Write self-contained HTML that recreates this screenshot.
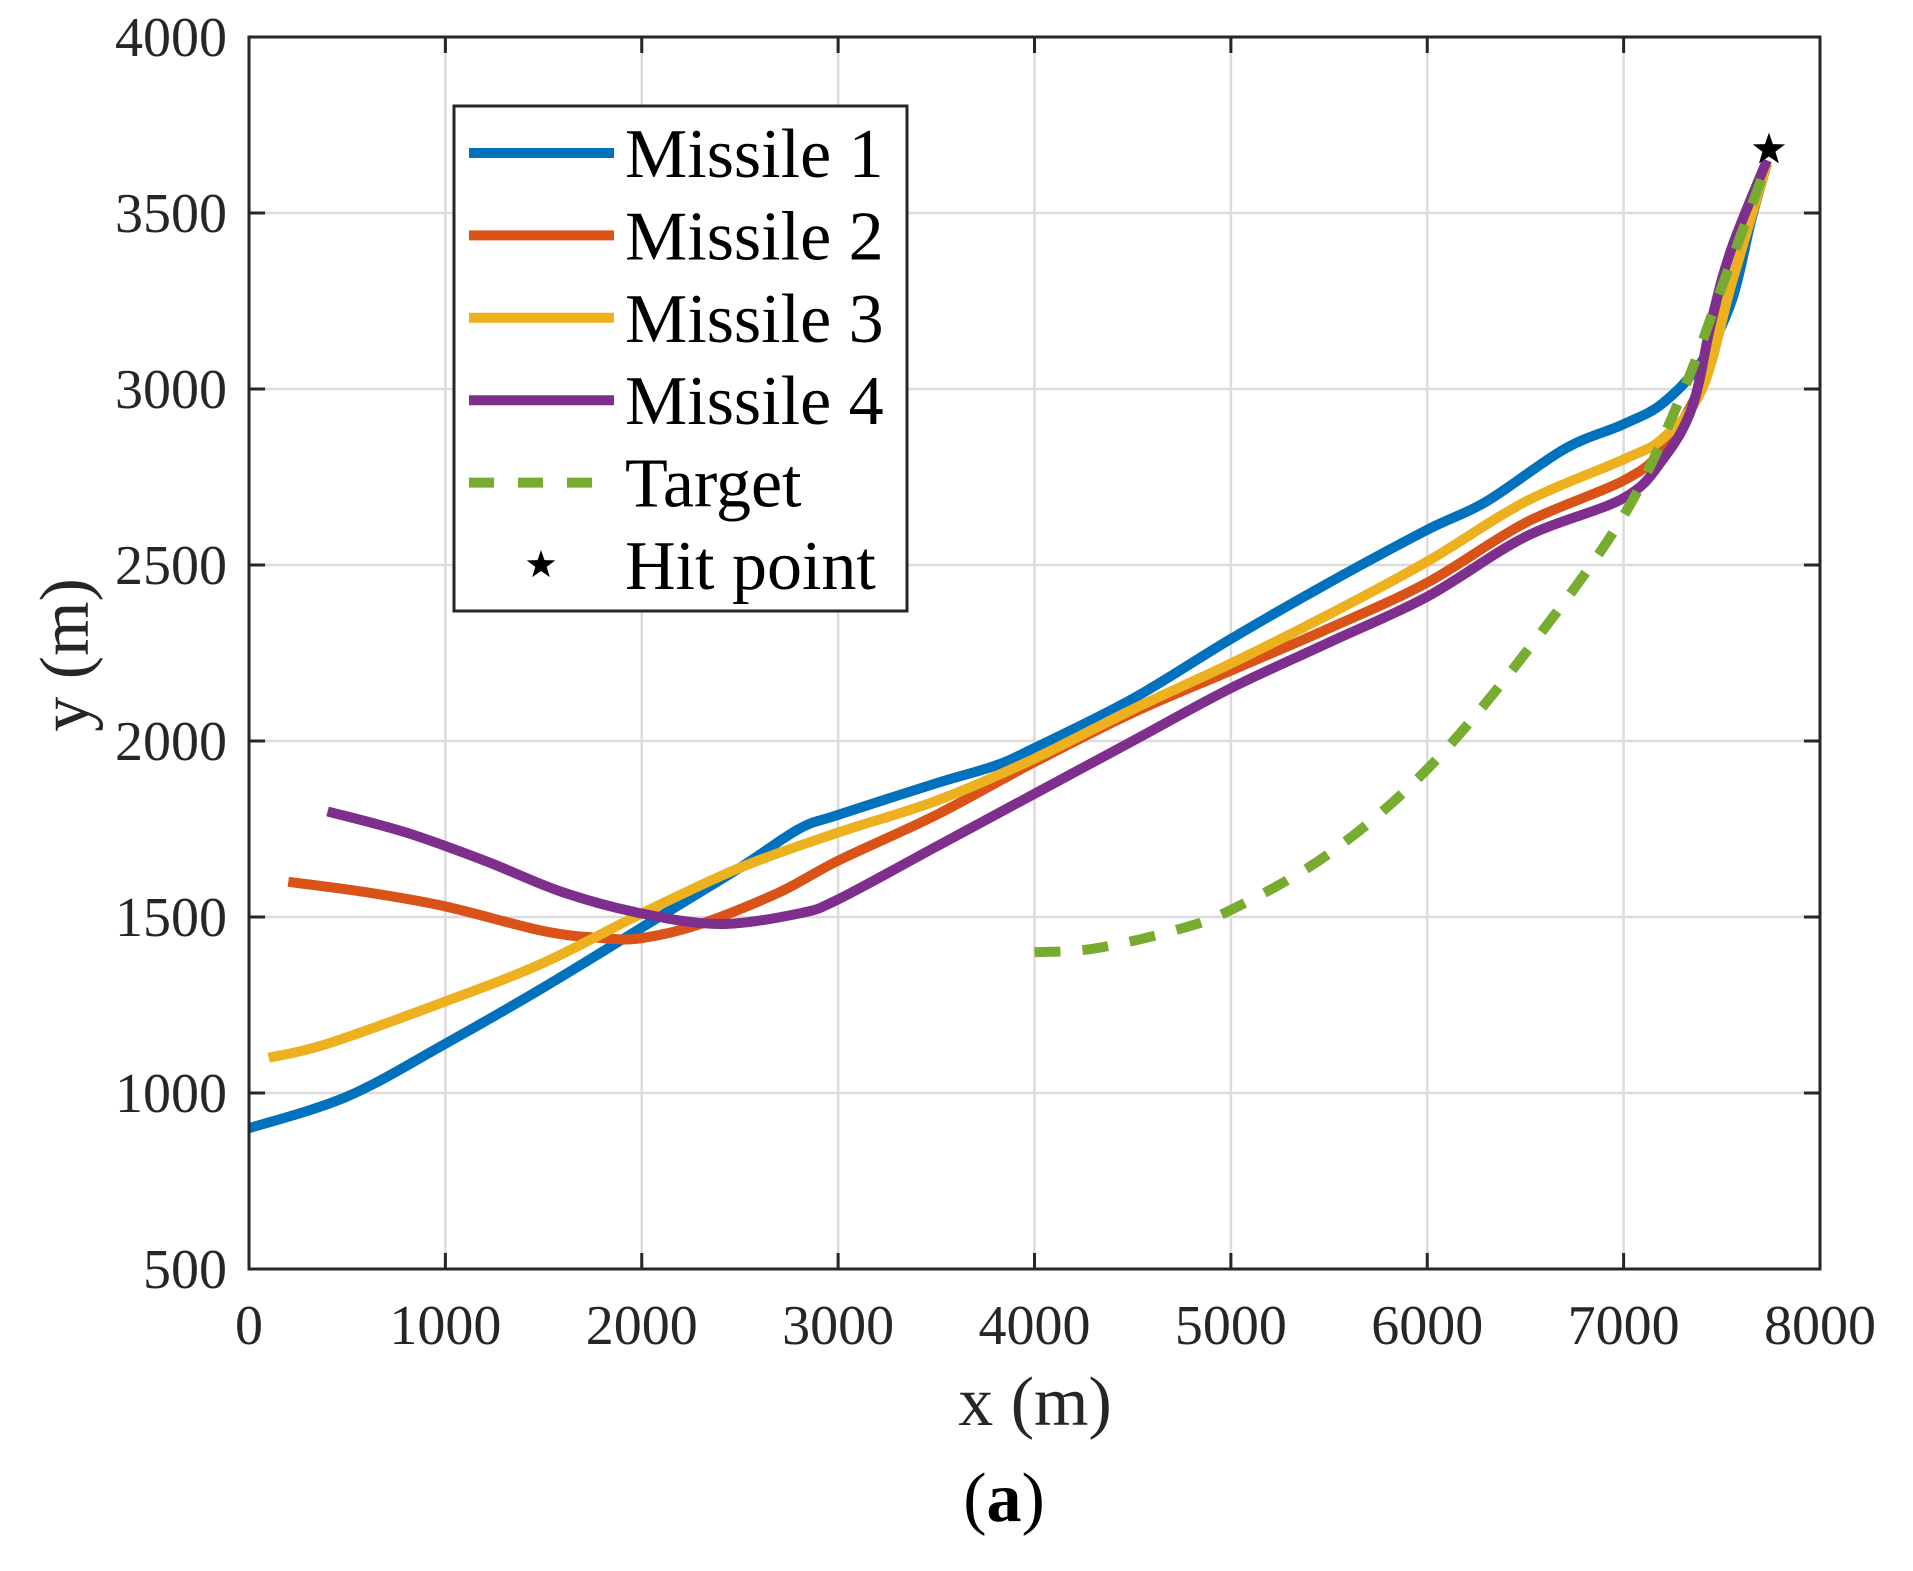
<!DOCTYPE html>
<html><head><meta charset="utf-8"><style>
html,body{margin:0;padding:0;background:#fff;}
svg{display:block;font-family:"Liberation Serif",serif;}
</style></head><body>
<svg id="chart" width="1913" height="1571" viewBox="0 0 1913 1571"></svg>
<script>
const xTicks=[0,1000,2000,3000,4000,5000,6000,7000,8000];
const yTicks=[500,1000,1500,2000,2500,3000,3500,4000];
const m1x=[0,500,1000,1500,2000,2500,2800,3000,3500,3800,4000,4500,5000,5500,6000,6300,6700,7000,7200,7400,7550,7650,7730];
const m1y=[900,990,1140,1300,1470,1640,1750,1790,1880,1930,1980,2120,2290,2450,2600,2680,2830,2900,2960,3080,3250,3480,3640];
const m2x=[200,600,1000,1500,1800,2000,2300,2700,3000,3500,4000,4500,5000,5500,6000,6500,7000,7200,7400,7550,7730];
const m2y=[1600,1570,1530,1460,1440,1440,1480,1570,1660,1790,1940,2080,2200,2320,2450,2620,2740,2830,3020,3300,3640];
const m3x=[100,400,1000,1500,2000,2500,3000,3500,4000,4500,5000,5500,6000,6500,7000,7200,7400,7550,7730];
const m3y=[1100,1140,1260,1370,1510,1640,1740,1830,1950,2090,2220,2360,2510,2680,2800,2860,3000,3300,3640];
const m4x=[400,800,1200,1600,2000,2400,2800,3000,3500,4000,4500,5000,5500,6000,6500,7000,7200,7350,7450,7550,7730];
const m4y=[1800,1740,1660,1570,1510,1480,1510,1550,1700,1850,2000,2150,2280,2410,2580,2690,2800,2950,3200,3400,3650];
const tx=[4000,4300,4700,5000,5500,6000,6500,7000,7300,7500,7730];
const ty=[1400,1410,1460,1520,1680,1920,2250,2640,2990,3290,3640];
const hit=[7740,3680];
const legendLabels=["Missile 1","Missile 2","Missile 3","Missile 4","Target","Hit point"];

const L=249,R=1820,T=37,B=1269;
const X=v=>L+(v-0)/8000*(R-L);
const Y=v=>B-(v-500)/3500*(B-T);
const svg=document.getElementById('chart');
const NS='http://www.w3.org/2000/svg';
function mk(tag,attrs,parent){const e=document.createElementNS(NS,tag);for(const k in attrs)e.setAttribute(k,attrs[k]);(parent||svg).appendChild(e);return e;}

// grid
xTicks.forEach(v=>{const e=mk('line',{x1:X(v),x2:X(v),y1:T,y2:B,stroke:'#dcdcdc','stroke-width':2.5});

});
yTicks.forEach(v=>{const e=mk('line',{x1:L,x2:R,y1:Y(v),y2:Y(v),stroke:'#dcdcdc','stroke-width':2.5});

});

function smooth(xs,ys){const p=xs.map((x,i)=>[X(x),Y(ys[i])]);let d='M'+p[0][0]+','+p[0][1];
for(let i=0;i<p.length-1;i++){const p0=p[i-1]||p[i],p1=p[i],p2=p[i+1],p3=p[i+2]||p2;
const c1=[p1[0]+(p2[0]-p0[0])/6,p1[1]+(p2[1]-p0[1])/6],c2=[p2[0]-(p3[0]-p1[0])/6,p2[1]-(p3[1]-p1[1])/6];
d+=' C'+c1[0]+','+c1[1]+' '+c2[0]+','+c2[1]+' '+p2[0]+','+p2[1];}return d;}

const series=[[m1x,m1y,'#0072bd','missile-1-line'],[m2x,m2y,'#d95319','missile-2-line'],[m3x,m3y,'#edb120','missile-3-line'],[m4x,m4y,'#7e2f8e','missile-4-line']];
series.forEach(s=>{const e=mk('path',{d:smooth(s[0],s[1]),fill:'none',stroke:s[2],'stroke-width':10,'stroke-linejoin':'round'});

});
const tp=mk('path',{d:smooth(tx,ty),fill:'none',stroke:'#77ac30','stroke-width':10,'stroke-dasharray':'26 22'});



function star(cx,cy,r){let pts=[];for(let i=0;i<10;i++){const a=-Math.PI/2+i*Math.PI/5;const rr=i%2?r*0.4:r;pts.push((cx+rr*Math.cos(a))+','+(cy+rr*Math.sin(a)));}return pts.join(' ');}
const st=mk('polygon',{points:star(X(hit[0]),Y(hit[1]),17),fill:'#000'});



// axes box
const ax=mk('rect',{x:L,y:T,width:R-L,height:B-T,fill:'none',stroke:'#262626','stroke-width':3});


xTicks.forEach(v=>{mk('line',{x1:X(v),x2:X(v),y1:B,y2:B-16,stroke:'#262626','stroke-width':3});mk('line',{x1:X(v),x2:X(v),y1:T,y2:T+16,stroke:'#262626','stroke-width':3});
const t=mk('text',{x:X(v),y:1344,'font-size':56,'text-anchor':'middle',fill:'#262626'});t.textContent=v;

});
yTicks.forEach(v=>{mk('line',{x1:L,x2:L+16,y1:Y(v),y2:Y(v),stroke:'#262626','stroke-width':3});mk('line',{x1:R,x2:R-16,y1:Y(v),y2:Y(v),stroke:'#262626','stroke-width':3});
const t=mk('text',{x:227,y:Y(v)+19,'font-size':56,'text-anchor':'end',fill:'#262626'});t.textContent=v;

});

const xl=mk('text',{x:1035,y:1425,'font-size':70,'text-anchor':'middle',fill:'#262626'});xl.textContent='x (m)';


const yl=mk('text',{x:0,y:0,'font-size':70,'text-anchor':'middle',fill:'#262626',transform:'translate(88,655) rotate(-90)'});yl.textContent='y (m)';


const cap=mk('text',{x:1004,y:1521,'font-size':70,'text-anchor':'middle',fill:'#000'});
cap.innerHTML='(<tspan font-weight="bold">a</tspan>)';



// legend
const lg=mk('g',{});


mk('rect',{x:454,y:106,width:453,height:505,fill:'#fff',stroke:'#262626','stroke-width':3},lg);
const lcols=['#0072bd','#d95319','#edb120','#7e2f8e','#77ac30'];
legendLabels.forEach((lab,i)=>{const cy=153+i*82.4;
if(i<4){mk('line',{x1:469,x2:614,y1:cy,y2:cy,stroke:lcols[i],'stroke-width':10},lg);}
else if(i===4){mk('line',{x1:469,x2:614,y1:cy,y2:cy,stroke:lcols[i],'stroke-width':10,'stroke-dasharray':'25 24'},lg);}
else{mk('polygon',{points:star(541,cy,15),fill:'#000'},lg);}
const t=mk('text',{x:625,y:cy+24,'font-size':70,fill:'#000'},lg);t.textContent=lab;

});
</script>
</body></html>
